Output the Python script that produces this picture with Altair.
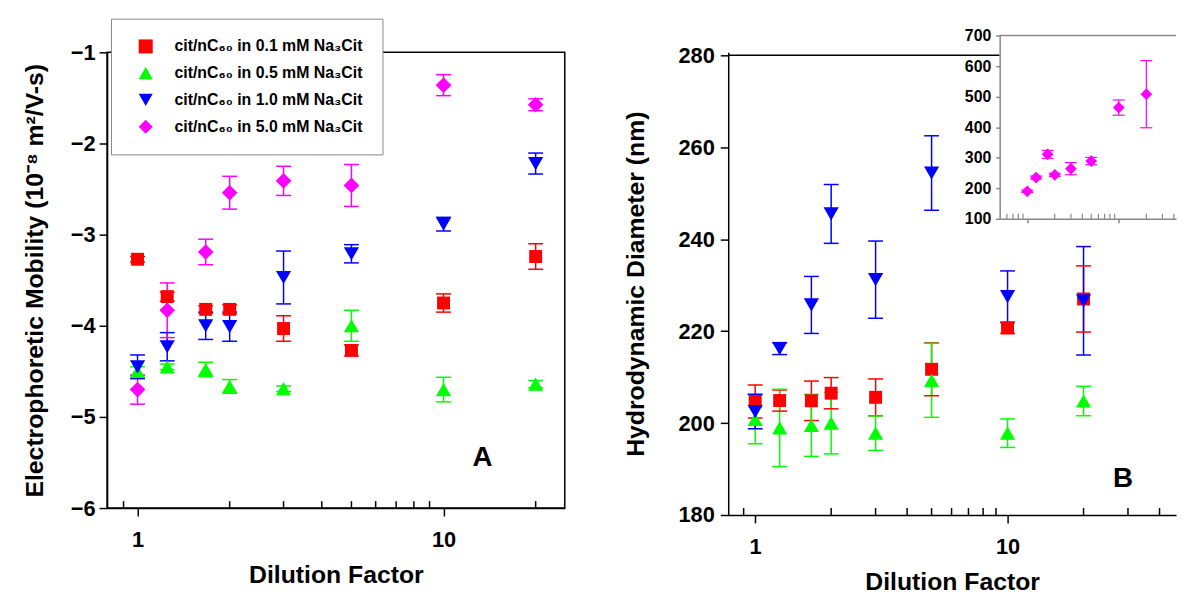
import altair as alt
import pandas as pd

FONT = "Liberation Sans"

# ---------------- data ----------------
X = [1, 1.25, 1.67, 2, 3, 5, 10, 20]
SERIES = [
    "cit/nC₆₀ in 0.1 mM Na₃Cit",
    "cit/nC₆₀ in 0.5 mM Na₃Cit",
    "cit/nC₆₀ in 1.0 mM Na₃Cit",
    "cit/nC₆₀ in 5.0 mM Na₃Cit",
]
COLORS = ["#FF0000", "#00FF00", "#0000FF", "#FF00FF"]
SHAPES = ["square", "triangle-up", "triangle-down", "diamond"]
SIZES = [170, 235, 235, 250]

# Panel A: electrophoretic mobility
MOB_01 = [-3.27, -3.68, -3.82, -3.82, -4.03, -4.27, -3.75, -3.24]
MOB_01_ERR = [0.03, 0.05, 0.04, 0.05, 0.14, 0.06, 0.10, 0.14]
MOB_05 = [-4.50, -4.45, -4.48, -4.665, -4.69, -4.00, -4.70, -4.64]
MOB_05_ERR = [0.05, 0.03, 0.08, 0.075, 0.03, 0.17, 0.135, 0.04]
MOB_10 = [-4.45, -4.23, -4.00, -4.01, -3.47, -3.21, -2.885, -2.22]
MOB_10_ERR = [0.13, 0.155, 0.15, 0.16, 0.29, 0.10, 0.075, 0.115]
MOB_50 = [-4.70, -3.83, -3.19, -2.54, -2.41, -2.46, -1.36, -1.575]
MOB_50_ERR = [0.16, 0.30, 0.14, 0.18, 0.16, 0.23, 0.115, 0.065]

# Panel B: hydrodynamic diameter (nm)
DIA_01 = [204.7, 204.9, 204.85, 206.5, 205.6, 211.7, 220.7, 227.0]
DIA_01_ERR = [3.6, 2.3, 4.3, 3.4, 4.0, 5.75, 1.2, 7.2]
DIA_05 = [200.8, 198.95, 199.5, 200.0, 197.8, 209.3, 197.8, 204.8]
DIA_05_ERR = [5.3, 8.4, 6.75, 6.7, 3.75, 8.05, 3.1, 3.2]
DIA_10 = [202.5, 216.2, 225.7, 245.5, 231.2, 254.4, 227.5, 226.6]
DIA_10_ERR = [3.75, 1.3, 6.2, 6.4, 8.4, 8.1, 5.6, 11.8]

# Inset: 5.0 mM series diameter
DIA_50 = [190, 235, 311, 244, 264, 289, 464, 508]
DIA_50_ERR = [4, 5, 13, 5, 20, 12, 25, 110]

Y_TICKS_A = [-6, -5, -4, -3, -2, -1]
Y_TICKS_B = [180, 200, 220, 240, 260, 280]
Y_TICKS_INSET = [100, 200, 300, 400, 500, 600, 700]
X_MAJOR = [1, 10]
MINOR_A = [0.9, 2, 3, 4, 5, 6, 7, 8, 9, 20]
MINOR_B = [0.9, 2, 3, 4, 5, 6, 7, 8, 9, 20, 30, 40]
MINOR_INSET = [0.6, 0.7, 0.8, 0.9, 2, 3, 4, 5, 6, 7, 8, 9, 20, 30, 40]

TITLE_A_Y = "Electrophoretic Mobility (10⁻⁸ m²/V-s)"
TITLE_B_Y = "Hydrodynamic Diameter (nm)"
TITLE_X = "Dilution Factor"

XDOM_A = [0.795, 24.9]
YDOM_A = [-6, -1]
XDOM_B = [0.782, 46.5]
YDOM_B = [180, 280.65]
FRAME_B_Y = 280
XDOM_I = [0.5, 42.2]
YDOM_I = [100, 700]


def series_frame(vals, errs, idx):
    rows = []
    for i, (vs, es) in enumerate(zip(vals, errs)):
        k = idx[i]
        for x, v, e in zip(X, vs, es):
            rows.append(dict(x=x, v=v, lo=v - e, hi=v + e, series=SERIES[k],
                             col=COLORS[k], shp=SHAPES[k], sz=SIZES[k]))
    return pd.DataFrame(rows)


df_a = series_frame([MOB_01, MOB_05, MOB_10, MOB_50],
                    [MOB_01_ERR, MOB_05_ERR, MOB_10_ERR, MOB_50_ERR], [0, 1, 2, 3])
df_b = series_frame([DIA_01, DIA_05, DIA_10],
                    [DIA_01_ERR, DIA_05_ERR, DIA_10_ERR], [0, 1, 2])
df_i = series_frame([DIA_50], [DIA_50_ERR], [3])

# ---------------- layout ----------------
W_A, H_A = 462, 460
W_B, H_B = 452, 467
INSET_LEFT = 274
INSET_BOTTOM = 168
INSET_TOP = -17
GRAY = "#888888"

xa = alt.Scale(type="log", domain=XDOM_A, nice=False)
ya = alt.Scale(domain=YDOM_A, nice=False, zero=False)
xb = alt.Scale(type="log", domain=XDOM_B, nice=False)
yb = alt.Scale(domain=YDOM_B, nice=False, zero=False)
xi = alt.Scale(type="log", domain=XDOM_I, nice=False, range=[INSET_LEFT, W_B])
yi = alt.Scale(domain=YDOM_I, nice=False, zero=False, range=[INSET_BOTTOM, INSET_TOP])

ax_x = alt.Axis(values=X_MAJOR, format="~g", tickSize=8, labelPadding=14,
                title=TITLE_X, titlePadding=12, labelFlush=False)
ax_ya = alt.Axis(values=Y_TICKS_A, format="d", tickSize=8, labelPadding=4,
                 title=TITLE_A_Y, titlePadding=23)
ax_yb = alt.Axis(values=Y_TICKS_B, format="d", tickSize=8, labelPadding=6,
                 title=TITLE_B_Y, titlePadding=30)
ax_xi = alt.Axis(orient="bottom", offset=INSET_BOTTOM - H_B, values=X_MAJOR, labels=False,
                 tickSize=4, domainColor=GRAY, tickColor=GRAY, title="", zindex=1)
ax_yi = alt.Axis(orient="left", offset=-INSET_LEFT, values=Y_TICKS_INSET, format="d",
                 labelFontSize=16, tickSize=4, labelPadding=5, domainColor=GRAY,
                 tickColor=GRAY, title="", zindex=1)

legend = alt.Legend(
    title=None, orient="none", legendX=4, legendY=-34,
    labelFont=FONT, labelFontSize=16, labelFontWeight="bold", labelColor="black",
    labelLimit=400, symbolSize=200, symbolStrokeWidth=0,
    strokeColor="#888888", fillColor="white", padding=20, rowPadding=11,
    symbolOffset=7, labelOffset=21,
)


def panel_layers(df, xs, ys, xaxis, yaxis, minor, h, use_legend):
    base = alt.Chart(df)
    minor_l = alt.Chart(pd.DataFrame({"t": minor})).mark_rule(
        color="black", strokeWidth=1.5).encode(
        x=alt.X("t:Q", scale=xs, axis=xaxis),
        y=alt.value(h - 7), y2=alt.value(h))
    err = base.mark_rule(strokeWidth=1.5).encode(
        x=alt.X("x:Q", scale=xs, axis=xaxis),
        y=alt.Y("lo:Q", scale=ys, axis=yaxis), y2="hi:Q",
        color=alt.Color("col:N", scale=None))
    cap_lo = base.mark_tick(orient="horizontal", size=15, thickness=1.5, opacity=1).encode(
        x=alt.X("x:Q", scale=xs, axis=xaxis),
        y=alt.Y("lo:Q", scale=ys, axis=yaxis),
        color=alt.Color("col:N", scale=None))
    cap_hi = base.mark_tick(orient="horizontal", size=15, thickness=1.5, opacity=1).encode(
        x=alt.X("x:Q", scale=xs, axis=xaxis),
        y=alt.Y("hi:Q", scale=ys, axis=yaxis),
        color=alt.Color("col:N", scale=None))
    if use_legend:
        col = alt.Color("series:N", scale=alt.Scale(domain=SERIES, range=COLORS), legend=legend)
        shp = alt.Shape("series:N", scale=alt.Scale(domain=SERIES, range=SHAPES), legend=legend)
    else:
        col = alt.Color("col:N", scale=None)
        shp = alt.Shape("shp:N", scale=None)
    pts = base.mark_point(filled=True, opacity=1, strokeWidth=0).encode(
        x=alt.X("x:Q", scale=xs, axis=xaxis),
        y=alt.Y("v:Q", scale=ys, axis=yaxis),
        color=col, shape=shp,
        size=alt.Size("sz:Q", scale=None))
    return [minor_l, err, cap_lo, cap_hi, pts]


def label_layer(x, y, t, xs, ys, xaxis, yaxis):
    return alt.Chart(pd.DataFrame({"x": [x], "y": [y], "t": [t]})).mark_text(
        font=FONT, fontSize=28, fontWeight="bold", color="black",
        align="center", baseline="middle").encode(
        x=alt.X("x:Q", scale=xs, axis=xaxis),
        y=alt.Y("y:Q", scale=ys, axis=yaxis), text="t:N")


# Panel A
layers_a = panel_layers(df_a, xa, ya, ax_x, ax_ya, MINOR_A, H_A, True)
layers_a.append(label_layer(13.4, -5.456, "A", xa, ya, ax_x, ax_ya))
left = alt.layer(*layers_a).properties(
    width=W_A, height=H_A,
    view=alt.ViewBackground(stroke="black", strokeWidth=1.5))

# Panel B main
frame_b = alt.Chart(pd.DataFrame({"x1": [XDOM_B[0]], "x2": [XDOM_B[1]], "y": [FRAME_B_Y]})).mark_rule(
    color="black", strokeWidth=1.5).encode(
    x=alt.X("x1:Q", scale=xb, axis=ax_x), x2="x2:Q",
    y=alt.Y("y:Q", scale=yb, axis=ax_yb))
layers_b = [frame_b] + panel_layers(df_b, xb, yb, ax_x, ax_yb, MINOR_B, H_B, False)
layers_b.append(label_layer(28.7, 187.9, "B", xb, yb, ax_x, ax_yb))
main_b = alt.layer(*layers_b)

# Inset
box_i = pd.DataFrame({"x1": [XDOM_I[0]], "x2": [XDOM_I[1]], "y1": [YDOM_I[0]], "y2": [YDOM_I[1]]})
bg_i = alt.Chart(box_i).mark_rect(fill="white").encode(
    x=alt.X("x1:Q", scale=xi, axis=ax_xi), x2="x2:Q",
    y=alt.Y("y1:Q", scale=yi, axis=ax_yi), y2="y2:Q")
top_i = alt.Chart(box_i).mark_rule(color=GRAY, strokeWidth=1.5).encode(
    x=alt.X("x1:Q", scale=xi, axis=ax_xi), x2="x2:Q",
    y=alt.Y("y2:Q", scale=yi, axis=ax_yi))
minor_i = alt.Chart(pd.DataFrame({"t": MINOR_INSET})).mark_rule(color=GRAY, strokeWidth=1.2).encode(
    x=alt.X("t:Q", scale=xi, axis=ax_xi),
    y=alt.value(INSET_BOTTOM - 5), y2=alt.value(INSET_BOTTOM))
base_i = alt.Chart(df_i)
err_i = base_i.mark_rule(strokeWidth=1.2, color="#FF00FF").encode(
    x=alt.X("x:Q", scale=xi, axis=ax_xi),
    y=alt.Y("lo:Q", scale=yi, axis=ax_yi), y2="hi:Q")
caplo_i = base_i.mark_tick(orient="horizontal", size=12, thickness=1.2, opacity=1, color="#FF00FF").encode(
    x=alt.X("x:Q", scale=xi, axis=ax_xi), y=alt.Y("lo:Q", scale=yi, axis=ax_yi))
caphi_i = base_i.mark_tick(orient="horizontal", size=12, thickness=1.2, opacity=1, color="#FF00FF").encode(
    x=alt.X("x:Q", scale=xi, axis=ax_xi), y=alt.Y("hi:Q", scale=yi, axis=ax_yi))
pts_i = base_i.mark_point(filled=True, opacity=1, strokeWidth=0, shape="diamond",
                          color="#FF00FF", size=140).encode(
    x=alt.X("x:Q", scale=xi, axis=ax_xi),
    y=alt.Y("v:Q", scale=yi, axis=ax_yi))
inset = alt.layer(bg_i, top_i, minor_i, err_i, caplo_i, caphi_i, pts_i)

right = alt.layer(main_b, inset).resolve_scale(x="independent", y="independent").properties(
    width=W_B, height=H_B)

chart = alt.hconcat(left, right, spacing=57).resolve_scale(
    color="independent", shape="independent").resolve_legend(
    color="independent", shape="independent").properties(
    padding={"left": 14, "top": 6, "right": 0, "bottom": 0}
).configure_axis(
    labelFont=FONT, labelFontSize=22, labelFontWeight="bold", labelColor="black",
    titleFont=FONT, titleFontSize=25, titleFontWeight="bold", titleColor="black",
    domainColor="black", domainWidth=1.5, tickColor="black", tickWidth=1.5, grid=False
).configure_view(stroke="transparent")

chart.save("out.html", embed_options={"renderer": "svg", "actions": False})
